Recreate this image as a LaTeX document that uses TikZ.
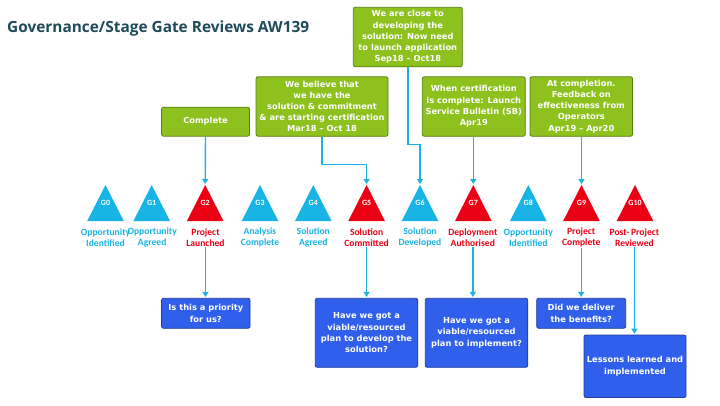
\documentclass[tikz,border=0pt]{standalone}
\usepackage{fontspec}
\usetikzlibrary{arrows.meta,calc}
\newfontfamily\boxfont{DejaVu Sans}
\newfontfamily\gatefont{Carlito}
\newfontfamily\titlefont{Open Sans}
\definecolor{greenfill}{HTML}{8CC11E}
\definecolor{greenline}{HTML}{5B7D12}
\definecolor{bluefill}{HTML}{3060EB}
\definecolor{blueline}{HTML}{1E3C9C}
\definecolor{gatecyan}{HTML}{18B4E6}
\definecolor{gatered}{HTML}{EB0014}
\definecolor{conncol}{HTML}{1DB2E3}
\definecolor{titlecol}{HTML}{1E4A5A}
\tikzset{
  greenbox/.style={draw=greenline, fill=greenfill, line width=0.8pt, rounded corners=2pt,
    inner sep=0pt, align=center, text=white,
    font=\boxfont\bfseries\fontsize{8.3}{11.2}\selectfont},
  bluebox/.style={draw=blueline, fill=bluefill, line width=0.8pt, rounded corners=2pt,
    inner sep=0pt, align=center, text=white,
    font=\boxfont\bfseries\fontsize{8.3}{11.3}\selectfont},
  gatename/.style={inner sep=0pt, text=white, font=\gatefont\bfseries\fontsize{8}{8}\selectfont},
  stagelbl/.style={inner sep=0pt, align=center, font=\gatefont\bfseries\fontsize{9.6}{11.6}\selectfont},
  conn/.style={draw=conncol, line width=1.4pt, -{Triangle[width=6pt,length=5pt]}, shorten >=1pt},
}
\newcommand{\gate}[4]{% name, x, colour, G label
  \coordinate (t#1) at (#2,185);
  \fill[#3] (t#1) -- ++(18.3,36) -- ++(-36.6,0) -- cycle;
  \node[gatename] (g#1) at (#2,203) {#4};
}
\begin{document}
\begin{tikzpicture}[x=1pt,y=-1pt]
\useasboundingbox (0,0) rectangle (720,405);
\fill[white] (0,0) rectangle (720,405);

\node[anchor=west, inner sep=0pt, text=titlecol, font=\titlefont\bfseries\fontsize{15.4}{17}\selectfont] (title) at (7,28) {Governance/Stage Gate Reviews AW139};

% green boxes
\node[greenbox, minimum width=88pt, minimum height=29pt] (w1) at (205.5,121.7) {Complete};
\node[greenbox, minimum width=132pt, minimum height=59.5pt] (w2) at (322,106.5) {We believe that\\we have the\\solution \& commitment\\\& are starting certification\\Mar18 – Oct 18};
\node[greenbox, minimum width=109pt, minimum height=59.5pt] (w3) at (407.8,37) {We are close to\\developing the\\solution: Now need\\to launch application\\Sep18 – Oct18};
\node[greenbox, minimum width=103pt, minimum height=59.5pt] (w4) at (473.8,106.5) {When certification\\is complete: Launch\\Service Bulletin (SB)\\Apr19};
\node[greenbox, minimum width=102.5pt, minimum height=59.5pt] (w5) at (581.3,106.5) {At completion.\\Feedback on\\effectiveness from\\Operators\\Apr19 – Apr20};

% gates
\gate{0}{105.5}{gatecyan}{G0}
\gate{1}{151.7}{gatecyan}{G1}
\gate{2}{205.2}{gatered}{G2}
\gate{3}{260}{gatecyan}{G3}
\gate{4}{313.3}{gatecyan}{G4}
\gate{5}{366.6}{gatered}{G5}
\gate{6}{420}{gatecyan}{G6}
\gate{7}{473.3}{gatered}{G7}
\gate{8}{528.3}{gatecyan}{G8}
\gate{9}{581.5}{gatered}{G9}
\gate{10}{635}{gatered}{G10}

% stage labels
\node[stagelbl, text=gatecyan] (l0) at (105.5,237.5) {Opportunity\\Identified};
\node[stagelbl, text=gatecyan] (l1) at (152.2,237.5) {Opportunity\\Agreed};
\node[stagelbl, text=gatered] (l2) at (205.5,237.5) {Project\\Launched};
\node[stagelbl, text=gatecyan] (l3) at (260,237.5) {Analysis\\Complete};
\node[stagelbl, text=gatecyan] (l4) at (313.3,237.5) {Solution\\Agreed};
\node[stagelbl, text=gatered] (l5) at (366.6,237.5) {Solution\\Committed};
\node[stagelbl, text=gatecyan] (l6) at (420,237.5) {Solution\\Developed};
\node[stagelbl, text=gatered] (l7) at (472.8,237.5) {Deployment\\Authorised};
\node[stagelbl, text=gatecyan] (l8) at (528.3,237.5) {Opportunity\\Identified};
\node[stagelbl, text=gatered] (l9) at (581.2,237.5) {Project\\Complete};
\node[stagelbl, text=gatered] (l10) at (634.4,237.5) {Post-\,Project\\Reviewed};

% blue boxes
\node[bluebox, minimum width=88.5pt, minimum height=30pt] (b1) at (205.8,313.3) {Is this a priority\\for us?};
\node[bluebox, minimum width=102.5pt, minimum height=69pt] (b2) at (366.5,332.8) {Have we got a\\viable/resourced\\plan to develop the\\solution?};
\node[bluebox, minimum width=102.5pt, minimum height=69pt] (b3) at (476.5,332.8) {Have we got a\\viable/resourced\\plan to implement?};
\node[bluebox, minimum width=89pt, minimum height=30pt] (b4) at (581.2,313.3) {Did we deliver\\the benefits?};
\node[bluebox, minimum width=102pt, minimum height=62.5pt] (b5) at (635,366.3) {Lessons learned and\\implemented};

% connectors top
\coordinate (k1) at (366.6,164.3);
\coordinate (k2) at (420,144.5);
\draw[conn] (w1.south) -- (t2);
\draw[conn] (w2.south) |- (k1) -- (t5);
\draw[conn] (w3.south) |- (k2) -- (t6);
\draw[conn] (w4.south -| t7) -- (t7);
\draw[conn] (w5.south -| t9) -- (t9);

% connectors bottom
\draw[conn] (l2.south) -- (l2.south |- b1.north);
\draw[conn] (l5.south) -- (l5.south |- b2.north);
\draw[conn] (l7.south) -- (l7.south |- b3.north);
\draw[conn] (l9.south) -- (l9.south |- b4.north);
\draw[conn] (l10.south) -- (l10.south |- b5.north);
\end{tikzpicture}
\end{document}
